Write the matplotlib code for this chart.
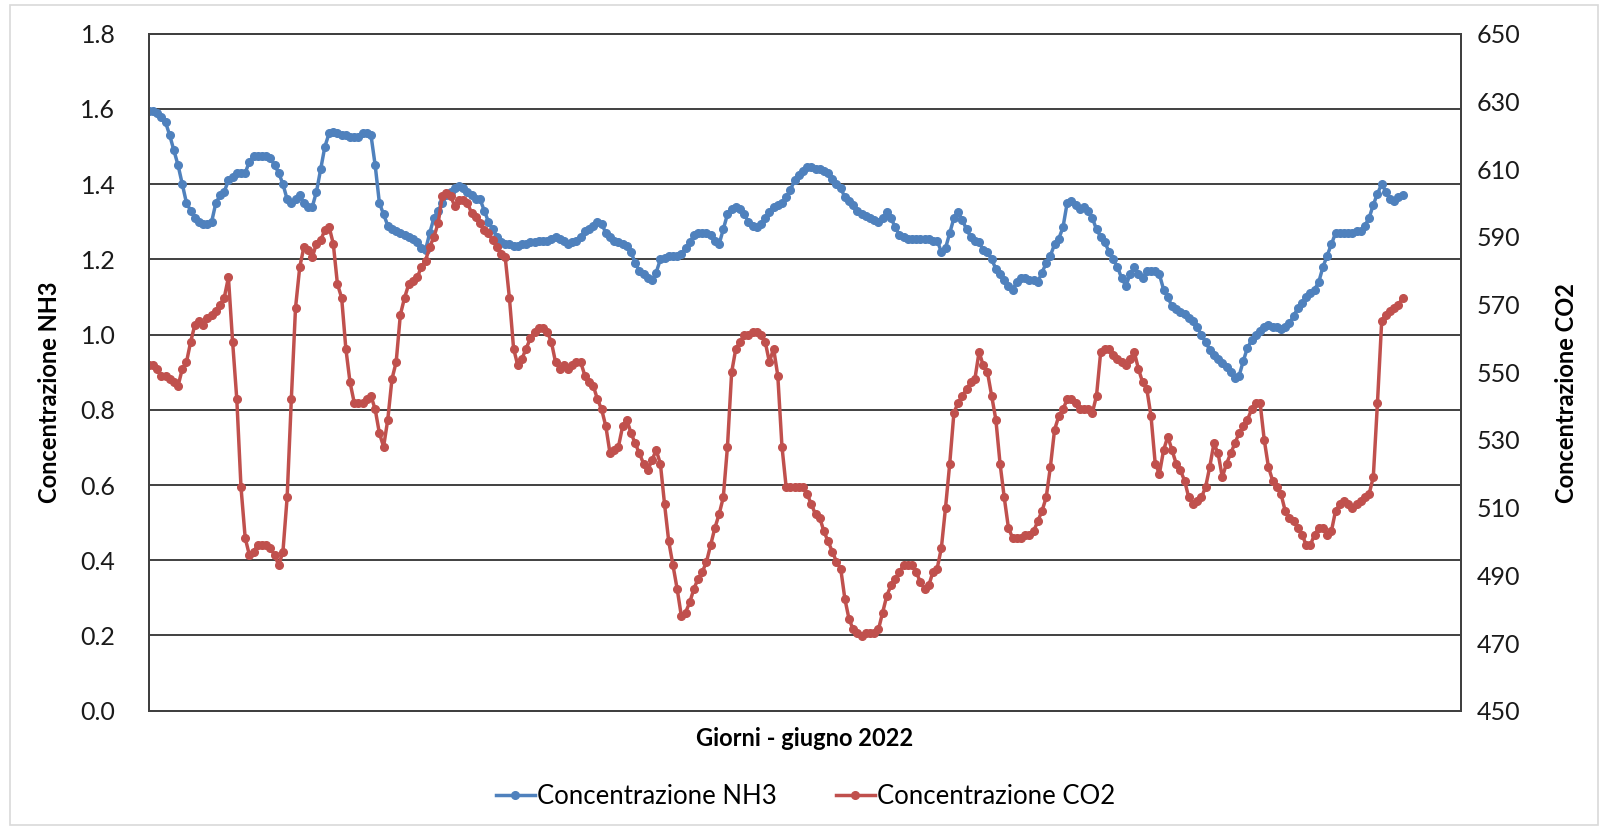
import numpy as np
import matplotlib.pyplot as plt
from matplotlib.patches import Rectangle

plt.rcParams['font.family'] = ['Lato', 'DejaVu Sans']

# concentrazione NH3 (asse sinistro), un valore per rilevazione
nh3 = [
    1.595, 1.595, 1.59, 1.58, 1.565, 1.53, 1.49, 1.45, 1.40, 1.35,
    1.33, 1.31, 1.30, 1.295, 1.295, 1.30, 1.35, 1.37, 1.38, 1.41,
    1.42, 1.43, 1.43, 1.43, 1.46, 1.475, 1.475, 1.475, 1.475, 1.47,
    1.45, 1.43, 1.40, 1.36, 1.35, 1.36, 1.37, 1.35, 1.34, 1.34,
    1.38, 1.44, 1.50, 1.535, 1.54, 1.535, 1.53, 1.53, 1.525, 1.525,
    1.525, 1.537, 1.537, 1.53, 1.45, 1.35, 1.32, 1.29, 1.28, 1.275,
    1.27, 1.265, 1.26, 1.255, 1.245, 1.23, 1.225, 1.27, 1.31, 1.33,
    1.35, 1.37, 1.38, 1.39, 1.395, 1.39, 1.38, 1.37, 1.36, 1.36,
    1.33, 1.30, 1.28, 1.26, 1.245, 1.24, 1.24, 1.235, 1.235, 1.24,
    1.24, 1.245, 1.245, 1.25, 1.25, 1.25, 1.255, 1.26, 1.255, 1.25,
    1.24, 1.245, 1.25, 1.26, 1.275, 1.28, 1.29, 1.30, 1.295, 1.27,
    1.26, 1.25, 1.245, 1.24, 1.235, 1.22, 1.19, 1.17, 1.16, 1.15,
    1.145, 1.165, 1.20, 1.205, 1.21, 1.21, 1.21, 1.215, 1.23, 1.245,
    1.265, 1.27, 1.27, 1.27, 1.265, 1.25, 1.24, 1.28, 1.32, 1.335,
    1.34, 1.335, 1.32, 1.30, 1.29, 1.285, 1.295, 1.31, 1.325, 1.34,
    1.345, 1.35, 1.365, 1.385, 1.41, 1.425, 1.435, 1.445, 1.445, 1.44,
    1.44, 1.435, 1.43, 1.415, 1.40, 1.39, 1.365, 1.355, 1.345, 1.33,
    1.32, 1.315, 1.31, 1.305, 1.30, 1.31, 1.325, 1.31, 1.285, 1.265,
    1.26, 1.255, 1.255, 1.255, 1.255, 1.255, 1.255, 1.25, 1.25, 1.22,
    1.23, 1.27, 1.31, 1.325, 1.305, 1.28, 1.26, 1.25, 1.245, 1.225,
    1.22, 1.20, 1.175, 1.16, 1.145, 1.13, 1.12, 1.14, 1.15, 1.15,
    1.145, 1.145, 1.14, 1.165, 1.19, 1.21, 1.24, 1.255, 1.285, 1.35,
    1.355, 1.345, 1.335, 1.34, 1.33, 1.31, 1.28, 1.26, 1.245, 1.22,
    1.20, 1.18, 1.15, 1.13, 1.16, 1.18, 1.16, 1.15, 1.17, 1.17,
    1.17, 1.16, 1.12, 1.10, 1.075, 1.068, 1.06, 1.055, 1.045, 1.035,
    1.02, 1.00, 0.98, 0.96, 0.945, 0.935, 0.925, 0.915, 0.90, 0.885,
    0.89, 0.93, 0.965, 0.985, 1.00, 1.01, 1.02, 1.025, 1.02, 1.02,
    1.015, 1.02, 1.03, 1.05, 1.07, 1.085, 1.10, 1.11, 1.12, 1.14,
    1.18, 1.21, 1.24, 1.27, 1.27, 1.27, 1.27, 1.27, 1.275, 1.275,
    1.29, 1.31, 1.345, 1.375, 1.40, 1.38, 1.36, 1.355, 1.365, 1.37,
]

# concentrazione CO2 (asse destro)
co2 = [
    552, 552, 551, 549, 549, 548, 547, 546, 551, 553,
    559, 564, 565, 564, 566, 567, 568, 570, 572, 578,
    559, 542, 516, 501, 496, 497, 499, 499, 499, 498,
    496, 493, 497, 513, 542, 569, 581, 587, 586, 584,
    588, 589, 592, 593, 588, 576, 572, 557, 547, 541,
    541, 541, 542, 543, 539, 532, 528, 536, 548, 553,
    567, 572, 576, 577, 578, 581, 583, 587, 590, 594,
    602, 603, 602, 599, 601, 601, 600, 597, 596, 594,
    592, 591, 589, 587, 585, 584, 572, 557, 552, 554,
    557, 560, 562, 563, 563, 562, 559, 553, 551, 552,
    551, 552, 553, 553, 549, 547, 546, 542, 539, 534,
    526, 527, 528, 534, 536, 532, 529, 526, 523, 521,
    524, 527, 523, 511, 500, 493, 486, 478, 479, 482,
    486, 489, 491, 494, 499, 504, 508, 513, 528, 550,
    557, 559, 561, 561, 562, 562, 561, 559, 553, 557,
    549, 528, 516, 516, 516, 516, 516, 514, 511, 508,
    507, 503, 500, 497, 494, 492, 483, 477, 474, 473,
    472, 473, 473, 473, 474, 479, 484, 487, 489, 491,
    493, 493, 493, 491, 488, 486, 487, 491, 492, 498,
    510, 523, 538, 541, 543, 545, 547, 548, 556, 552,
    550, 543, 536, 523, 513, 504, 501, 501, 501, 502,
    502, 503, 506, 509, 513, 522, 533, 537, 539, 542,
    542, 541, 539, 539, 539, 538, 543, 556, 557, 557,
    555, 554, 553, 552, 554, 556, 551, 547, 545, 537,
    523, 520, 527, 531, 527, 523, 521, 518, 513, 511,
    512, 513, 516, 522, 529, 526, 519, 523, 526, 529,
    532, 534, 536, 539, 541, 541, 530, 522, 518, 516,
    514, 509, 507, 506, 504, 502, 499, 499, 502, 504,
    504, 502, 503, 509, 511, 512, 511, 510, 511, 512,
    513, 514, 519, 541, 565, 567, 568, 569, 570, 572,
]

nh3_ticks = np.arange(0, 1.81, 0.2)
co2_ticks = np.arange(450, 651, 20)

blue = '#4F81BD'
red = '#C0504D'
edge = '#404040'

fig = plt.figure(figsize=(16.08, 8.32), dpi=100)
fig.patches.append(Rectangle((0.006, 0.008), 0.988, 0.986, transform=fig.transFigure,
                             fill=False, edgecolor='#D9D9D9', lw=1.2))

ax = fig.add_axes([0.0925, 0.1458, 0.8163, 0.8136])
ax2 = ax.twinx()

x = np.arange(len(nh3))
l1, = ax.plot(x, nh3, color=blue, lw=2.5, marker='o', ms=5.5,
              mfc=blue, mec=blue, label='Concentrazione NH3')
l2, = ax2.plot(x, co2, color=red, lw=2.5, marker='o', ms=5.5,
               mfc=red, mec=red, label='Concentrazione CO2')

ax.set_xlim(0, 313)
ax.set_ylim(0, 1.8)
ax2.set_ylim(450, 650)
ax.set_xticks([])
ax.set_yticks(nh3_ticks)
ax.set_yticklabels([f'{v:.1f}' for v in nh3_ticks])
ax2.set_yticks(co2_ticks)
ax2.set_yticklabels([f'{v:d}' for v in co2_ticks])

ax.grid(axis='y', color=edge, lw=1.4)
ax.set_axisbelow(True)
ax.tick_params(axis='y', length=0, pad=24, labelsize=18, colors='#1a1a1a')
ax2.tick_params(axis='y', length=0, pad=11, labelsize=18, colors='#1a1a1a')
for a in (ax, ax2):
    for s in a.spines.values():
        s.set_color(edge)
        s.set_linewidth(1.4)

ax.set_ylabel('Concentrazione NH3', fontsize=17, fontweight='bold')
ax.yaxis.set_label_coords(-0.067, 0.47)
ax2.set_ylabel('Concentrazione CO2', fontsize=17, fontweight='bold', rotation=90)
ax2.yaxis.set_label_coords(1.071, 0.47)
ax.set_xlabel('Giorni - giugno 2022', fontsize=17, fontweight='bold')
ax.xaxis.set_label_coords(0.5, -0.024)

fig.legend([l1, l2], [l1.get_label(), l2.get_label()], loc='center',
           bbox_to_anchor=(0.501, 0.043), ncol=2, frameon=False, fontsize=18.5,
           handlelength=1.5, handletextpad=0.1, columnspacing=2.3, numpoints=1)

fig.savefig('out.png', dpi=100, facecolor='white')
